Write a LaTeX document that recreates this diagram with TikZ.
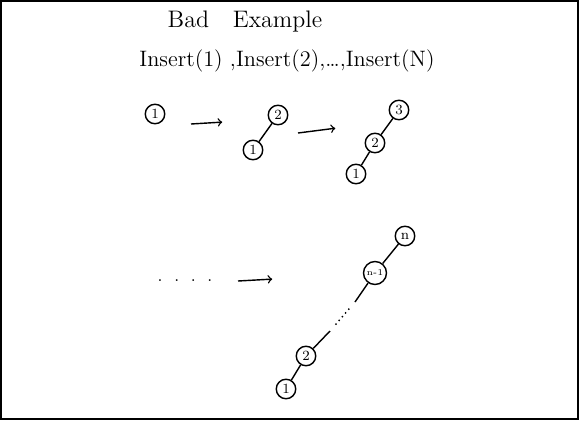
\documentclass[tikz,border=0pt]{standalone}
\usetikzlibrary{positioning, calc}

\begin{document}
\begin{tikzpicture}[
    x=0.02cm, y=-0.02cm,
    key/.style={draw, thick, circle, minimum size=3.9mm, inner sep=0pt,
                font=\footnotesize},
    bigkey/.style={key, minimum size=4.6mm, font=\tiny},
    link/.style={draw, thick},
    step arrow/.style={->, thick, shorten >=1pt},
    >=to, thick,
]

% =================================================================
%  FRAME
% =================================================================
\useasboundingbox (0,0) rectangle (579,420);
\draw[line width=1.2pt] (1,1) rectangle (578,419);

% =================================================================
%  HEADINGS
% =================================================================
\node[font=\fontsize{13.6}{16}\selectfont] (title) at (245,22)
    {Bad\quad Example};
\node[font=\fontsize{12.7}{15}\selectfont] (inserts) at (287,61)
    {Insert(1)\ ,Insert(2),\ldots,Insert(N)};

% =================================================================
%  FIRST THREE STEPS
% =================================================================
\node[key] (a1) at (155,114) {1};

\node[key] (b2) at (278,115) {2};
\node[key] (b1) at (253,150) {1};

\node[key] (c3) at (399,110) {3};
\node[key] (c2) at (375,143) {2};
\node[key] (c1) at (356,174) {1};

\coordinate (s1a) at (191,124);
\coordinate (s1b) at (224,122);
\coordinate (s2a) at (298,133);
\coordinate (s2b) at (337,128);
\draw[step arrow] (s1a) -- (s1b);
\draw[step arrow] (s2a) -- (s2b);

\draw[link] (b2) -- (b1);
\draw[link] (c3) -- (c2);
\draw[link] (c2) -- (c1);

% =================================================================
%  AFTER N INSERTS
% =================================================================
\node (more) at (185,281) {.\ \ .\ \ .\ \ .};
\coordinate (s3a) at (238,281);
\coordinate (s3b) at (274,279);
\draw[step arrow] (s3a) -- (s3b);

\node[key]    (dn)  at (405,236) {n};
\node[bigkey] (dn1) at (375,273) {n-1};
\node[key]    (d2)  at (306,356) {2};
\node[key]    (d1)  at (286,389) {1};

\coordinate (gapA) at (355,302);
\coordinate (gapB) at (330,331);

\draw[link] (dn) -- (dn1);
\draw[link] (dn1) -- (gapA);
\draw[dotted, thick, shorten <=5pt, shorten >=3pt] (gapA) -- (gapB);
\draw[link] (gapB) -- (d2);
\draw[link] (d2) -- (d1);

\end{tikzpicture}
\end{document}
